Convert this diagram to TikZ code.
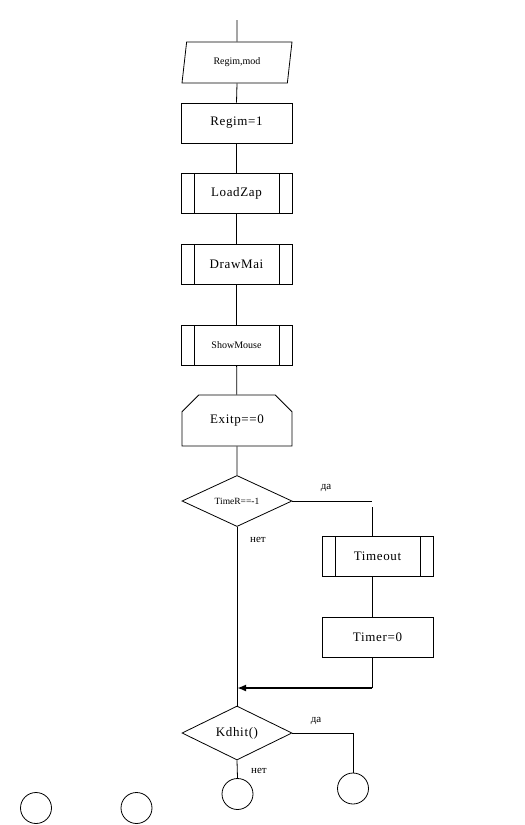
\documentclass[tikz,border=0pt]{standalone}
\usepackage{fontspec}
\setmainfont{Liberation Serif}
\usetikzlibrary{shapes.geometric, shapes.misc, arrows.meta, calc}

\tikzset{
  flow/.style={line width=0.8pt},
  blk/.style={draw, line width=0.8pt, minimum width=111pt, minimum height=40pt, inner sep=0pt,
    font=\fontsize{13}{15}\selectfont\addfontfeature{LetterSpace=5}},
  io/.style={blk, trapezium, trapezium left angle=63, trapezium right angle=117,
    trapezium stretches body, minimum width=110pt, minimum height=41pt,
    font=\fontsize{10}{12}\selectfont},
  sub/.style={blk, path picture={
    \draw[flow] ([xshift=13pt]path picture bounding box.north west) -- ([xshift=13pt]path picture bounding box.south west);
    \draw[flow] ([xshift=-13pt]path picture bounding box.north east) -- ([xshift=-13pt]path picture bounding box.south east);}},
  loopbox/.style={blk, chamfered rectangle, chamfered rectangle corners={north west, north east},
    chamfered rectangle xsep=11pt, chamfered rectangle ysep=11pt, minimum width=110pt, minimum height=51pt},
  cond/.style={blk, diamond, minimum width=110pt, minimum height=50pt},
  conn/.style={draw, line width=0.8pt, circle, minimum size=31pt, inner sep=0pt},
  lbl/.style={font=\fontsize{11}{13}\selectfont, inner sep=0pt}
}

\begin{document}
\begin{tikzpicture}[x=1pt, y=-1pt]
    \useasboundingbox (0,0) rectangle (525,825);

    % Блоки
    \node[io] (vvod) at (237,62.5) {Regim,mod};
    \node[blk] (regim) at (236.5,123) {Regim=1};
    \node[sub] (loadzap) at (236.5,193.5) {LoadZap};
    \node[sub] (drawmai) at (236.5,264) {DrawMai};
    \node[sub, font=\fontsize{10}{12}\selectfont] (showmouse) at (236.5,345) {ShowMouse};
    \node[loopbox] (exitp) at (237,420.5) {Exitp==0};
    \node[cond, font=\fontsize{9.5}{11}\selectfont] (timer) at (237,501) {TimeR==-1};
    \node[sub] (timeout) at (377.5,556.5) {Timeout};
    \node[blk] (timerzero) at (377.5,637.5) {Timer=0};
    \node[cond] (kdhit) at (237,733) {Kdhit()};

    % Соединители
    \node[conn] (knet) at (237.5,794) {};
    \node[conn] (kda) at (353,788.5) {};
    \node[conn] (ka) at (36,808) {};
    \node[conn] (kb) at (136.5,808) {};

    % Метки
    \node[lbl] (da1) at (326,488) {да};
    \node[lbl] (net1) at (258,540) {нет};
    \node[lbl] (da2) at (316,721) {да};
    \node[lbl] (net2) at (259,771) {нет};

    % Линии
    \coordinate (start) at (237,20);
    \coordinate (daend) at (372,501);
    \coordinate (dadown) at (372,507);
    \coordinate (back) at (372,688);
    \coordinate (kdaturn) at (353,733);

    \draw[flow] (start) -- (vvod.north);
    \draw[flow] (vvod.south) -- (regim.north);
    \draw[flow] (regim) -- (loadzap);
    \draw[flow] (loadzap) -- (drawmai);
    \draw[flow] (drawmai) -- (showmouse);
    \draw[flow] (showmouse) -- (exitp);
    \draw[flow] (exitp) -- (timer);
    \draw[flow] (timer.east) -- (daend);
    \draw[flow] (dadown) -- (dadown |- timeout.north);
    \draw[flow] (dadown |- timeout.south) -- (dadown |- timerzero.north);
    \draw[flow] (dadown |- timerzero.south) -- (back);
    \draw[line width=2.2pt, -{Latex[length=9pt, width=7pt]}] (back) -- (back -| timer.south);
    \draw[flow] (timer.south) -- (kdhit.north);
    \draw[flow] (kdhit.east) -- (kdaturn) -- (kda.north);
    \draw[flow] (kdhit.south) -- (knet.north);
\end{tikzpicture}
\end{document}
